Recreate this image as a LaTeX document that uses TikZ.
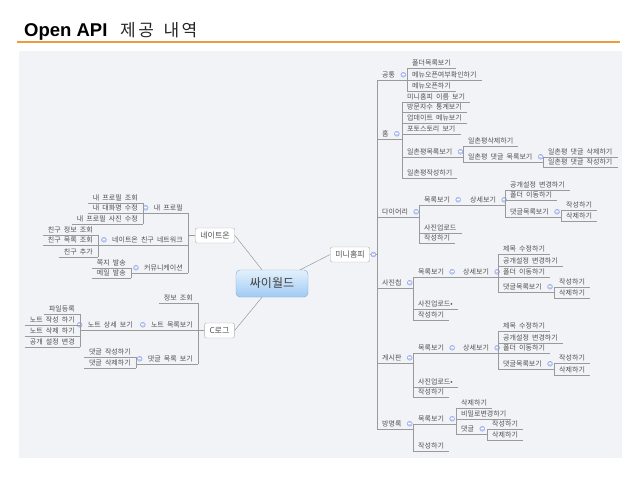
\documentclass[tikz,border=0pt]{standalone}
\usepackage{fontspec}
\setmainfont{Noto Sans CJK KR}
\newfontfamily\kr[WordSpace=2]{Noto Sans CJK KR}
\newfontfamily\krwide[LetterSpace=15,WordSpace=1.5]{Noto Sans CJK KR}
\newfontfamily\latin{Liberation Sans}
\definecolor{panel}{HTML}{F2F3F7}
\definecolor{rule}{HTML}{EE9B3B}
\definecolor{wire}{HTML}{9A9A9A}
\definecolor{ink}{HTML}{505050}
\definecolor{hubtop}{HTML}{E4F0FC}
\definecolor{hubbot}{HTML}{9FCBF3}
\definecolor{hubline}{HTML}{7EA9D8}
\definecolor{fold}{HTML}{C2D4EE}
\tikzset{
  link/.style={draw=wire, line width=.5pt},
  topic/.style={font=\kr\fontsize{7}{8}\selectfont, text=ink, inner xsep=5pt, inner ysep=1.5pt,
    text height=6pt, text depth=1pt,
    append after command={(\tikzlastnode.south west) edge[link] (\tikzlastnode.south east)}},
  rt/.style={topic, anchor=south west},
  lt/.style={topic, anchor=south east},
  knob/.style={circle, fill=fold, draw=fold!70!blue, line width=.3pt, inner sep=0pt, minimum size=5pt,
    path picture={\draw[white, line width=.7pt] ([xshift=1.1pt]path picture bounding box.west)
      -- ([xshift=-1.1pt]path picture bounding box.east);}},
  rfold/.style={append after command={node[knob] at ([xshift=3pt]\tikzlastnode.east) {}}},
  lfold/.style={append after command={node[knob] at ([xshift=-3pt]\tikzlastnode.west) {}}},
  hub/.style={rounded corners=4pt, draw=hubline, top color=hubtop, bottom color=hubbot,
    minimum width=72pt, minimum height=27pt, font=\kr\fontsize{12}{14}\selectfont, text=black!75},
  box/.style={rounded corners=2pt, draw=black!30, fill=white, minimum height=15pt, inner xsep=5pt,
    font=\kr\fontsize{8}{9}\selectfont, text=ink}
}
\begin{document}
\begin{tikzpicture}[x=1pt,y=-1pt]
  \useasboundingbox (0,0) rectangle (638,479);
  \fill[panel] (19,51) rectangle (622,458);
  \draw[rule, line width=2pt] (17,42) -- (620,42);
  \node[anchor=base west, inner sep=0pt, font=\latin\bfseries\fontsize{18.5}{20}\selectfont] (title) at (24,36) {Open API};
  \node[anchor=base west, inner sep=0pt, font=\krwide\fontsize{17}{19}\selectfont, text=black!85] (subtitle) at (120,36) {제공 내역};

  \node[hub] (cy) at (272,283.5) {싸이월드};
  \node[box] (mini) at (350,254.5) {미니홈피};
  \node[box] (nate) at (215,235.5) {네이트온};
  \node[box] (clog) at (219.5,330.5) {C로그};

  \node[rt,rfold] (c1) at (377,80) {공통};
  \node[rt,rfold] (c2) at (377,139) {홈};
  \node[rt,rfold] (c3) at (377,217) {다이어리};
  \node[rt,rfold] (c4) at (377,288) {사진첩};
  \node[rt,rfold] (c5) at (377,363) {게시판};
  \node[rt,rfold] (c6) at (377,429) {방명록};

  \node[rt] (cm1) at (407,68) {폴더목록보기};
  \node[rt] (cm2) at (407,80) {메뉴오픈여부확인하기};
  \node[rt] (cm3) at (407,91) {메뉴오픈하기};

  \node[rt] (h1) at (402,102) {미니홈피 이름 보기};
  \node[rt] (h2) at (402,112) {방문자수 통계보기};
  \node[rt] (h3) at (402,123) {업데이트 메뉴보기};
  \node[rt] (h4) at (402,134) {포토스토리 보기};
  \node[rt,rfold] (h5) at (402,157) {일촌평목록보기};
  \node[rt] (h6) at (402,178) {일촌평작성하기};
  \node[rt] (h51) at (463,146) {일촌평삭제하기};
  \node[rt,rfold] (h52) at (463,162) {일촌평 댓글 목록보기};
  \node[rt] (h521) at (543,157) {일촌평 댓글 삭제하기};
  \node[rt] (h522) at (543,167) {일촌평 댓글 작성하기};

  \node[rt,rfold] (d1) at (419,205) {목록보기};
  \node[rt] (d2) at (419,233) {사진업로드};
  \node[rt] (d3) at (419,243) {작성하기};
  \node[rt,rfold] (d11) at (465,205) {상세보기};
  \node[rt] (d111) at (505,190) {공개설정 변경하기};
  \node[rt] (d112) at (505,200) {폴더 이동하기};
  \node[rt,rfold] (d113) at (505,217) {댓글목록보기};
  \node[rt] (d1131) at (561,210) {작성하기};
  \node[rt] (d1132) at (561,221) {삭제하기};

  \node[rt,rfold] (p1) at (413,277) {목록보기};
  \node[rt] (p2) at (413,309) {사진업로드•};
  \node[rt] (p3) at (413,320) {작성하기};
  \node[rt,rfold] (p11) at (458,277) {상세보기};
  \node[rt] (p111) at (498,254) {제목 수정하기};
  \node[rt] (p112) at (498,266) {공개설정 변경하기};
  \node[rt] (p113) at (498,277) {폴더 이동하기};
  \node[rt,rfold] (p114) at (498,292) {댓글목록보기};
  \node[rt] (p1141) at (554,287) {작성하기};
  \node[rt] (p1142) at (554,298) {삭제하기};

  \node[rt,rfold] (b1) at (413,353) {목록보기};
  \node[rt] (b2) at (413,387) {사진업로드•};
  \node[rt] (b3) at (413,397) {작성하기};
  \node[rt,rfold] (b11) at (458,353) {상세보기};
  \node[rt] (b111) at (498,331) {제목 수정하기};
  \node[rt] (b112) at (498,343) {공개설정 변경하기};
  \node[rt] (b113) at (498,353) {폴더 이동하기};
  \node[rt,rfold] (b114) at (498,369) {댓글목록보기};
  \node[rt] (b1141) at (554,363) {작성하기};
  \node[rt] (b1142) at (554,375) {삭제하기};

  \node[rt,rfold] (g1) at (413,424) {목록보기};
  \node[rt] (g2) at (413,451) {작성하기};
  \node[rt] (g11) at (456,408) {삭제하기};
  \node[rt] (g12) at (456,419) {비밀로변경하기};
  \node[rt,rfold] (g13) at (456,434) {댓글};
  \node[rt] (g131) at (487,429) {작성하기};
  \node[rt] (g132) at (487,440) {삭제하기};

  \node[lt,lfold] (n1) at (188,213) {내 프로필};
  \node[lt,lfold] (n2) at (188,245) {네이트온 친구 네트워크};
  \node[lt,lfold] (n3) at (188,273) {커뮤니케이션};
  \node[lt] (n11) at (143,203) {내 프로필 조회};
  \node[lt] (n12) at (143,213) {내 대화명 수정};
  \node[lt] (n13) at (143,224) {내 프로필 사진 수정};
  \node[lt] (n21) at (98,235) {친구 정보 조회};
  \node[lt] (n22) at (98,245) {친구 목록 조회};
  \node[lt] (n23) at (98,257) {친구 추가};
  \node[lt] (n31) at (131,268) {쪽지 발송};
  \node[lt] (n32) at (131,278) {메일 발송};

  \node[lt] (l1) at (198,303) {정보 조회};
  \node[lt,lfold] (l2) at (198,330) {노트 목록보기};
  \node[lt,lfold] (l3) at (198,364) {댓글 목록 보기};
  \node[lt,lfold] (l21) at (138,330) {노트 상세 보기};
  \node[lt] (l211) at (80,314) {파일등록};
  \node[lt] (l212) at (80,325) {노트 작성 하기};
  \node[lt] (l213) at (80,336) {노트 삭제 하기};
  \node[lt] (l214) at (80,347) {공개 설정 변경};
  \node[lt] (l31) at (136,357) {댓글 작성하기};
  \node[lt] (l32) at (136,368) {댓글 삭제하기};

  \draw[link] ([xshift=-10pt]cy.north) -- (nate.east);
  \draw[link] ([xshift=-8pt]cy.north east) -- (mini.west);
  \draw[link] ([xshift=-10pt]cy.south) -- (clog.east);

  \begin{scope}[link, to path={-| (\tikztotarget)}]
    \draw (mini.east) to (c1.south west);
    \draw (mini.east) to (c2.south west);
    \draw (mini.east) to (c3.south west);
    \draw (mini.east) to (c4.south west);
    \draw (mini.east) to (c5.south west);
    \draw (mini.east) to (c6.south west);
    \draw (c1.south east) to (cm1.south west);
    \draw (c1.south east) to (cm2.south west);
    \draw (c1.south east) to (cm3.south west);
    \draw (c2.south east) to (h1.south west);
    \draw (c2.south east) to (h2.south west);
    \draw (c2.south east) to (h3.south west);
    \draw (c2.south east) to (h4.south west);
    \draw (c2.south east) to (h5.south west);
    \draw (c2.south east) to (h6.south west);
    \draw (h5.south east) to (h51.south west);
    \draw (h5.south east) to (h52.south west);
    \draw (h52.south east) to (h521.south west);
    \draw (h52.south east) to (h522.south west);
    \draw (c3.south east) to (d1.south west);
    \draw (c3.south east) to (d2.south west);
    \draw (c3.south east) to (d3.south west);
    \draw (d1.south east) to (d11.south west);
    \draw (d11.south east) to (d111.south west);
    \draw (d11.south east) to (d112.south west);
    \draw (d11.south east) to (d113.south west);
    \draw (d113.south east) to (d1131.south west);
    \draw (d113.south east) to (d1132.south west);
    \draw (c4.south east) to (p1.south west);
    \draw (c4.south east) to (p2.south west);
    \draw (c4.south east) to (p3.south west);
    \draw (p1.south east) to (p11.south west);
    \draw (p11.south east) to (p111.south west);
    \draw (p11.south east) to (p112.south west);
    \draw (p11.south east) to (p113.south west);
    \draw (p11.south east) to (p114.south west);
    \draw (p114.south east) to (p1141.south west);
    \draw (p114.south east) to (p1142.south west);
    \draw (c5.south east) to (b1.south west);
    \draw (c5.south east) to (b2.south west);
    \draw (c5.south east) to (b3.south west);
    \draw (b1.south east) to (b11.south west);
    \draw (b11.south east) to (b111.south west);
    \draw (b11.south east) to (b112.south west);
    \draw (b11.south east) to (b113.south west);
    \draw (b11.south east) to (b114.south west);
    \draw (b114.south east) to (b1141.south west);
    \draw (b114.south east) to (b1142.south west);
    \draw (c6.south east) to (g1.south west);
    \draw (c6.south east) to (g2.south west);
    \draw (g1.south east) to (g11.south west);
    \draw (g1.south east) to (g12.south west);
    \draw (g1.south east) to (g13.south west);
    \draw (g13.south east) to (g131.south west);
    \draw (g13.south east) to (g132.south west);
    \draw (nate.west) to (n1.south east);
    \draw (nate.west) to (n2.south east);
    \draw (nate.west) to (n3.south east);
    \draw (n1.south west) to (n11.south east);
    \draw (n1.south west) to (n12.south east);
    \draw (n1.south west) to (n13.south east);
    \draw (n2.south west) to (n21.south east);
    \draw (n2.south west) to (n22.south east);
    \draw (n2.south west) to (n23.south east);
    \draw (n3.south west) to (n31.south east);
    \draw (n3.south west) to (n32.south east);
    \draw (clog.west) to (l1.south east);
    \draw (clog.west) to (l2.south east);
    \draw (clog.west) to (l3.south east);
    \draw (l2.south west) to (l21.south east);
    \draw (l21.south west) to (l211.south east);
    \draw (l21.south west) to (l212.south east);
    \draw (l21.south west) to (l213.south east);
    \draw (l21.south west) to (l214.south east);
    \draw (l3.south west) to (l31.south east);
    \draw (l3.south west) to (l32.south east);
  \end{scope}
  \node[knob] (mini-k) at ([xshift=3.5pt]mini.east) {};
\end{tikzpicture}
\end{document}
